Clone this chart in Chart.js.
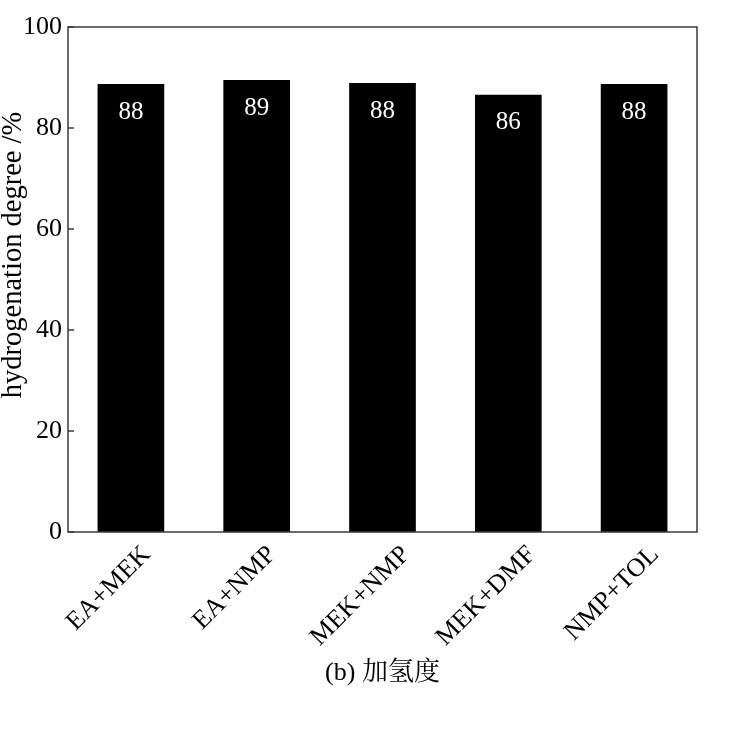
<!DOCTYPE html>
<html>
<head>
<meta charset="utf-8">
<script src="https://cdn.jsdelivr.net/npm/chart.js@4.4.1/dist/chart.umd.min.js"></script>
<style>
  html, body { margin: 0; padding: 0; background: #fff; }
  #wrap { width: 736px; height: 752px; }
</style>
</head>
<body>
<div id="wrap"><canvas id="chart" width="736" height="752"></canvas></div>
<script>
const solvents = ['EA+MEK', 'EA+NMP', 'MEK+NMP', 'MEK+DMF', 'NMP+TOL'];
const degree = [88.7, 89.5, 88.9, 86.6, 88.7];
const degreeText = ['88', '89', '88', '86', '88'];
const yTicks = [0, 20, 40, 60, 80, 100];

const serif = '"Liberation Serif", "Times New Roman", "Noto Serif CJK SC", "Noto Sans CJK SC", serif';

// frame, inward ticks, value labels, rotated category labels, y title
const frame = {
    id: 'frame',
    afterDatasetsDraw(chart) {
        const {ctx, chartArea: a, scales: {x, y}} = chart;
        ctx.save();
        ctx.strokeStyle = '#3a3a3a';
        ctx.lineWidth = 1.5;
        ctx.strokeRect(a.left, a.top, a.right - a.left, a.bottom - a.top);
        ctx.beginPath();
        for (const v of yTicks) {
            const py = y.getPixelForValue(v);
            ctx.moveTo(a.left, py);
            ctx.lineTo(a.left + 6, py);
        }
        ctx.stroke();

        ctx.fillStyle = '#fff';
        ctx.font = '25px ' + serif;
        ctx.textAlign = 'center';
        ctx.textBaseline = 'middle';
        chart.getDatasetMeta(0).data.forEach((bar, i) => {
            ctx.fillText(degreeText[i], bar.x, bar.y + 28);
        });

        // category labels: box centred a bit left of the bar, top edge fixed
        ctx.fillStyle = '#000';
        ctx.font = '26px ' + serif;
        solvents.forEach((s, i) => {
            const w = ctx.measureText(s).width;
            const half = (w + 19) / (2 * Math.SQRT2);
            ctx.save();
            ctx.translate(x.getPixelForValue(i) - 22, a.bottom + 12 + half);
            ctx.rotate(-Math.PI / 4);
            ctx.fillText(s, 0, 0);
            ctx.restore();
        });

        ctx.font = '28.5px ' + serif;
        ctx.translate(14, 255);
        ctx.rotate(-Math.PI / 2);
        ctx.fillText('hydrogenation degree /%', 0, 0);
        ctx.restore();
    }
};

new Chart(document.getElementById('chart'), {
    type: 'bar',
    data: {
        labels: solvents,
        datasets: [{
            data: degree,
            backgroundColor: '#000',
            borderWidth: 0,
            barPercentage: 0.53,
            categoryPercentage: 1
        }]
    },
    options: {
        responsive: false,
        animation: false,
        devicePixelRatio: 1,
        layout: { padding: { top: 27, right: 39, bottom: 0, left: 0 } },
        plugins: {
            legend: { display: false },
            tooltip: { enabled: false }
        },
        scales: {
            x: {
                grid: { display: false, drawTicks: false },
                border: { display: false },
                ticks: { display: false },
                title: {
                    display: true,
                    text: '(b) 加氢度',
                    color: '#000',
                    font: { family: serif, size: 26 },
                    padding: { top: 0, bottom: 63 }
                },
                afterFit: scale => { scale.height = 220; }
            },
            y: {
                min: 0,
                max: 100,
                grid: { display: false, drawTicks: false },
                border: { display: false },
                ticks: {
                    stepSize: 20,
                    padding: 6,
                    color: '#000',
                    font: { family: serif, size: 26 }
                },
                afterFit: scale => { scale.width = 68; }
            }
        }
    },
    plugins: [frame]
});
</script>
</body>
</html>
